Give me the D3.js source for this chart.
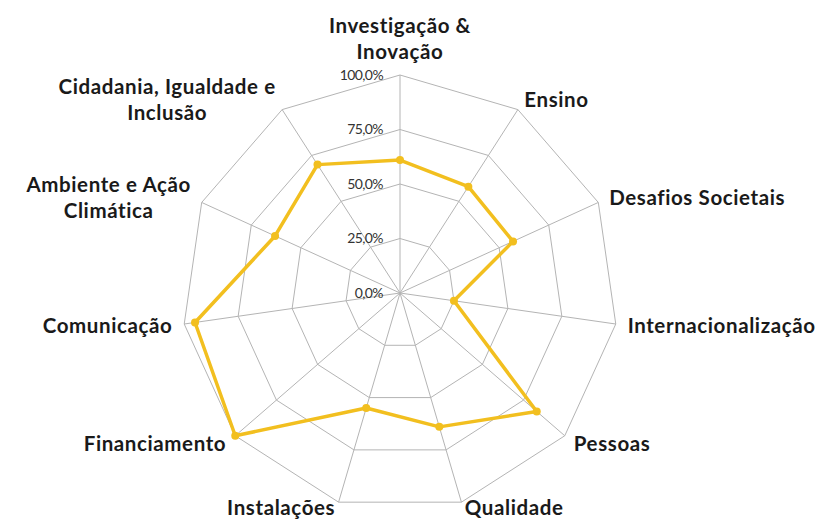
<!DOCTYPE html>
<html>
<head>
<meta charset="utf-8">
<script src="https://cdn.jsdelivr.net/npm/d3@7"></script>
<style>
  body { margin: 0; background: #fff; }
  svg { display: block; }
</style>
</head>
<body>
<script>
// categories, clockwise from top
var categories = [
  ["Investigação &", "Inovação"],
  ["Ensino"],
  ["Desafios Societais"],
  ["Internacionalização"],
  ["Pessoas"],
  ["Qualidade"],
  ["Instalações"],
  ["Financiamento"],
  ["Comunicação"],
  ["Ambiente e Ação", "Climática"],
  ["Cidadania, Igualdade e", "Inclusão"]
];

// values (%)
var values = [61, 58, 57, 25, 83, 64, 55, 100, 95, 63, 70];

var ticks = [0, 25, 50, 75, 100];
var tickLabels = ["0,0%", "25,0%", "50,0%", "75,0%", "100,0%"];

var width = 827, height = 522;
var cx = 400, cy = 293;
var R = 218;

var svg = d3.select("body").append("svg")
    .attr("width", width)
    .attr("height", height);

var r = d3.scaleLinear().domain([0, 100]).range([0, R]);
var angle = d3.scaleLinear().domain([0, categories.length]).range([0, 2 * Math.PI]);

function pt(i, v) {
  var a = angle(i);
  return [cx + r(v) * Math.sin(a), cy - r(v) * Math.cos(a)];
}

var g = svg.append("g");

// grid rings
ticks.slice(1).forEach(function(t) {
  var pts = categories.map(function(c, i) { return pt(i, t); });
  g.append("polygon")
    .attr("points", pts.map(function(p) { return p.join(","); }).join(" "))
    .attr("fill", "none")
    .attr("stroke", "#b4b4b4")
    .attr("stroke-width", 1);
});

// spokes
categories.forEach(function(c, i) {
  var p = pt(i, 100);
  g.append("line")
    .attr("x1", cx).attr("y1", cy)
    .attr("x2", p[0]).attr("y2", p[1])
    .attr("stroke", "#b4b4b4")
    .attr("stroke-width", 1);
});

// tick labels
ticks.forEach(function(t, k) {
  g.append("text")
    .attr("x", cx - 17)
    .attr("y", cy - r(t))
    .attr("dy", "0.35em")
    .attr("text-anchor", "end")
    .attr("font-family", "Lato, 'Open Sans', sans-serif")
    .attr("font-size", 14)
    .attr("letter-spacing", "-0.6px")
    .attr("fill", "#333")
    .text(tickLabels[k]);
});

// data line
var line = d3.line().curve(d3.curveLinearClosed);
var dataPts = values.map(function(v, i) { return pt(i, v); });
g.append("path")
  .attr("d", line(dataPts))
  .attr("fill", "none")
  .attr("stroke", "#f2bf1f")
  .attr("stroke-width", 3.5)
  .attr("stroke-linejoin", "round");

g.selectAll(".dot").data(dataPts).enter().append("circle")
  .attr("class", "dot")
  .attr("cx", function(d) { return d[0]; })
  .attr("cy", function(d) { return d[1]; })
  .attr("r", 4)
  .attr("fill", "#f2bf1f");

// category labels
var lineH = 26;
categories.forEach(function(lines, i) {
  var a = angle(i);
  var s = Math.sin(a), c = Math.cos(a);
  var lx = cx + (R + 12) * s, ly = cy - (R + 12) * c;
  var t = g.append("text")
    .attr("font-family", "Lato, 'Open Sans', sans-serif")
    .attr("font-weight", 700)
    .attr("font-size", 20.5)
    .attr("letter-spacing", "0.6px")
    .attr("fill", "#1a1a1a");
  var spans = lines.map(function(l) { return t.append("tspan").text(l); });
  var widths = spans.map(function(sp) { return sp.node().getComputedTextLength(); });
  var boxW = d3.max(widths);
  var left;
  if (s > 0.1) left = lx;
  else if (s < -0.1) left = lx - boxW;
  else left = lx - boxW / 2;
  var top;
  var boxH = lines.length * lineH;
  if (c > 0.95) top = ly + 2 - boxH;
  else if (c < -0.9) top = ly - boxH / 2 - 6; // keep bottom labels inside the frame
  else top = ly - boxH / 2;
  spans.forEach(function(sp, k) {
    sp.attr("x", left + boxW / 2)
      .attr("y", top + lineH * (k + 0.5))
      .attr("dy", "0.35em")
      .attr("text-anchor", "middle");
  });
});
</script>
</body>
</html>
